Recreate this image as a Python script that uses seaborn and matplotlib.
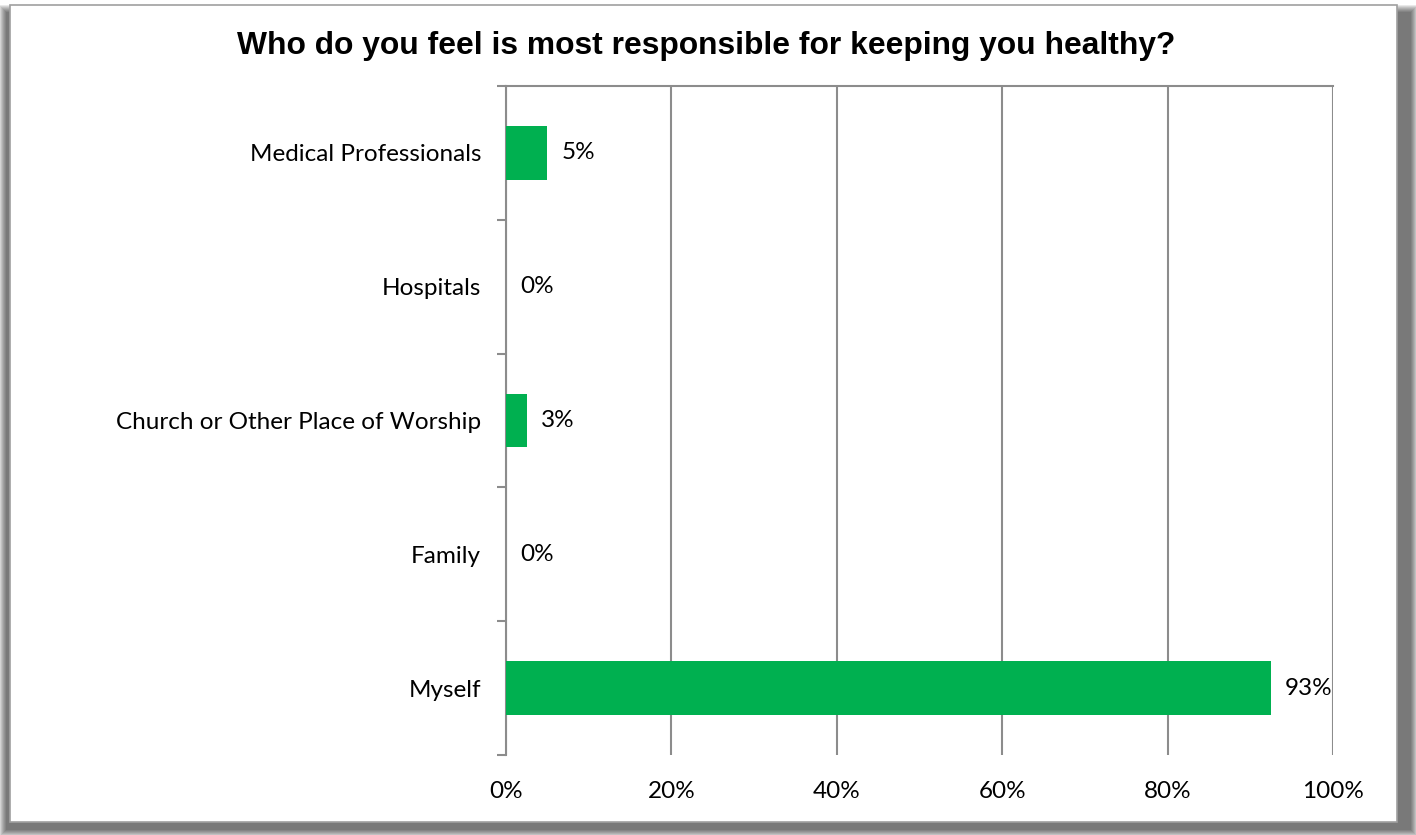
import matplotlib
matplotlib.use("Agg")
import matplotlib.pyplot as plt
import seaborn as sns
from matplotlib.patches import Rectangle
from matplotlib.ticker import FixedLocator, PercentFormatter

# data (share of respondents)
categories = ["Medical Professionals", "Hospitals", "Church or Other Place of Worship",
              "Family", "Myself"]
shares = [0.05, 0.0, 0.025, 0.0, 0.925]
value_labels = ["5%", "0%", "3%", "0%", "93%"]
x_ticks = [0, 0.2, 0.4, 0.6, 0.8, 1.0]

title = "Who do you feel is most responsible for keeping you healthy?"
bar_color = "#00B050"
grid_color = "#8c8c8c"

sns.set_theme(style="white")
plt.rcParams['font.family'] = ['Lato', 'DejaVu Sans']

W, H = 1416, 835
fig = plt.figure(figsize=(W / 100, H / 100), dpi=100)
fig.patch.set_facecolor("white")


def px_rect(x0, y0, x1, y1, **kw):
    # rectangle given in pixel coords, origin at top left
    return Rectangle((x0 / W, 1 - y1 / H), (x1 - x0) / W, (y1 - y0) / H,
                     transform=fig.transFigure, **kw)


# soft shadow behind the chart frame
for k in range(7, -1, -1):
    fig.add_artist(px_rect(6 - k, 12 - k, 1411 + k, 830 + k, facecolor="black",
                           edgecolor="none", alpha=0.085, zorder=0))
fig.add_artist(px_rect(10, 5, 1397, 822, facecolor="white", edgecolor="#a0a0a0",
                       linewidth=1.2, zorder=0.5))

ax = fig.add_axes([506 / W, 1 - 755 / H, (1333 - 506) / W, (755 - 86) / H])
ax.set_facecolor("none")
ax.set_zorder(2)

sns.barplot(x=shares, y=categories, color=bar_color, width=0.4, saturation=1,
            linewidth=0, ax=ax, zorder=3)

ax.set_xlim(0, 1)
ax.set_ylim(4.5, -0.5)
ax.xaxis.set_major_locator(FixedLocator(x_ticks))
ax.xaxis.set_major_formatter(PercentFormatter(1.0, decimals=0))
ax.grid(axis="x", color=grid_color, linewidth=1.5)
ax.grid(axis="y", visible=False)
ax.set_axisbelow(True)

for side in ["bottom", "right"]:
    ax.spines[side].set_visible(False)
for side in ["left", "top"]:
    ax.spines[side].set_color(grid_color)
    ax.spines[side].set_linewidth(1.5)

ax.yaxis.set_minor_locator(FixedLocator([i - 0.5 for i in range(len(categories) + 1)]))
ax.tick_params(axis="y", which="minor", left=True, length=6.5, width=1.5, color=grid_color)
ax.tick_params(axis="y", which="major", left=False, length=0, pad=18, labelsize=17.5,
               labelcolor="black")
ax.tick_params(axis="x", which="both", bottom=False, length=0, pad=19, labelsize=17.5,
               labelcolor="black")
ax.set_xlabel("")
ax.set_ylabel("")

for i, (v, lab) in enumerate(zip(shares, value_labels)):
    ax.annotate(lab, xy=(v, i), xytext=(10, 0), textcoords="offset points",
                ha="left", va="center", fontsize=17.5, color="black")

fig.text(706 / W, 1 - 46 / H, title, ha="center", va="center", fontsize=22.9,
         fontweight="bold", family=["Liberation Sans", "DejaVu Sans"], color="black")

fig.savefig("out.png", dpi=100, facecolor="white")
